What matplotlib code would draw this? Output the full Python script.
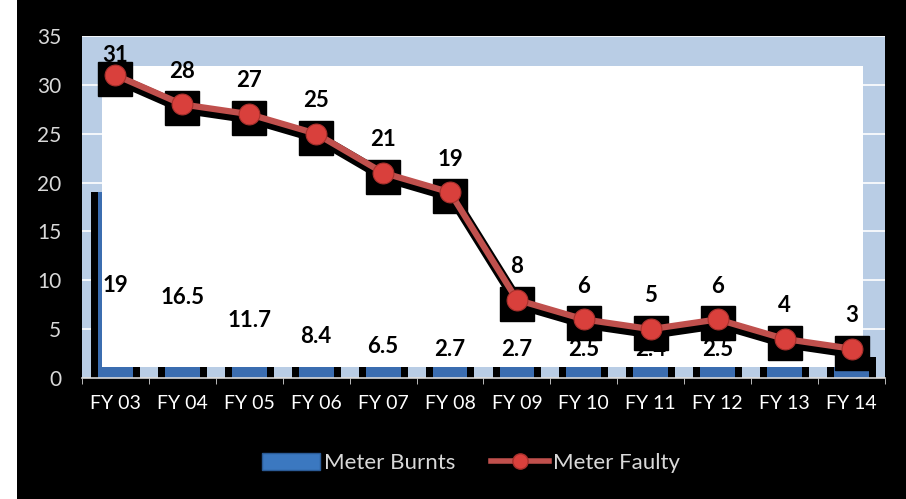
import numpy as np
import matplotlib.pyplot as plt
from matplotlib.patches import Rectangle
from matplotlib.lines import Line2D
from matplotlib.patches import Patch
from matplotlib import transforms

plt.rcParams['font.family'] = ['Lato', 'DejaVu Sans']

# data
years = ['FY 03', 'FY 04', 'FY 05', 'FY 06', 'FY 07', 'FY 08',
         'FY 09', 'FY 10', 'FY 11', 'FY 12', 'FY 13', 'FY 14']
meter_burnts = [19, 16.5, 11.7, 8.4, 6.5, 2.7, 2.7, 2.5, 2.4, 2.5, 2.2, 2.2]
meter_faulty = [31, 28, 27, 25, 21, 19, 8, 6, 5, 6, 4, 3]

fig = plt.figure(figsize=(9.06, 4.99), dpi=100, facecolor='black')
# white strip on the far left of the original image
fig.patches.append(Rectangle((0, 0), 17 / 906, 1, transform=fig.transFigure,
                             facecolor='white', edgecolor='none'))

ax = fig.add_axes([82 / 906, 1 - 378 / 499, 803 / 906, 342 / 499])
ax.set_facecolor('#B9CDE5')
x = np.arange(len(years))

# bars: black body with blue face
ax.bar(x, meter_burnts, width=0.73, color='black', zorder=2)
ax.bar(x, meter_burnts, width=0.52, color='#3B6DB0', zorder=2.1)

# the white panel that hides most of the bars
ax.add_patch(Rectangle((-0.2, 1.1), 11.37, 30.8, facecolor='white',
                       edgecolor='none', zorder=2.5))

# bar labels
for xi, v in zip(x, meter_burnts):
    ax.text(xi, max(v / 2, 2.9), f'{v:g}', ha='center', va='center',
            fontsize=16, fontweight='bold', color='black', zorder=3)

# line with black shadow
shadow = transforms.offset_copy(ax.transData, fig=fig, x=2, y=-4, units='dots')
ax.plot(x, meter_faulty, color='black', lw=8, zorder=4, transform=shadow,
        solid_capstyle='butt')
ax.plot(x, meter_faulty, ls='none', marker='s', ms=25, color='black',
        zorder=4.1, transform=transforms.offset_copy(ax.transData, fig=fig,
                                                     x=0, y=-4, units='dots'))
ax.plot(x, meter_faulty, color='#C0504D', lw=4.5, zorder=5,
        marker='o', ms=15, mfc='#D9403C', mec='#A8302C', mew=0.8)

for i, (xi, v) in enumerate(zip(x, meter_faulty)):
    off = 14 if i == 0 else 24
    ax.annotate(f'{v}', (xi, v), xytext=(0, off), textcoords='offset points',
                ha='center', va='center', fontsize=16, fontweight='bold',
                color='black', zorder=6)

ax.set_xlim(-0.5, 11.5)
ax.set_ylim(0, 35)
ax.set_yticks(range(0, 36, 5))
ax.yaxis.grid(True, color='white', lw=1.2, zorder=1)
ax.set_axisbelow(True)
ax.set_xticks(x)
ax.set_xticklabels(years)
ax.set_xticks(np.arange(-0.5, 12, 1), minor=True)
ax.tick_params(axis='x', which='major', length=0, colors='white',
               labelsize=14, pad=12)
ax.tick_params(axis='x', which='minor', length=4, color='#D9D9D9', direction='out')
ax.tick_params(axis='y', length=0, colors='#D9D9D9', labelsize=15, pad=15)
for s in ['top', 'right', 'left']:
    ax.spines[s].set_visible(False)
ax.spines['bottom'].set_color('#D9D9D9')
ax.spines['bottom'].set_linewidth(1.2)

handles = [Patch(facecolor='#3B78C0', edgecolor='#2A5A95'),
           Line2D([0], [0], color='#C0504D', lw=4, marker='o', ms=11,
                  mfc='#D9403C', mec='#A8302C')]
fig.legend(handles, ['Meter Burnts', 'Meter Faulty'], loc='center',
           bbox_to_anchor=(0.52, 1 - 463 / 499), ncol=2, frameon=False,
           fontsize=16, labelcolor='#D9D9D9', handlelength=2.6,
           handleheight=0.8, handletextpad=0.2, columnspacing=1.6)

fig.savefig('out.png', dpi=100, facecolor='black')
